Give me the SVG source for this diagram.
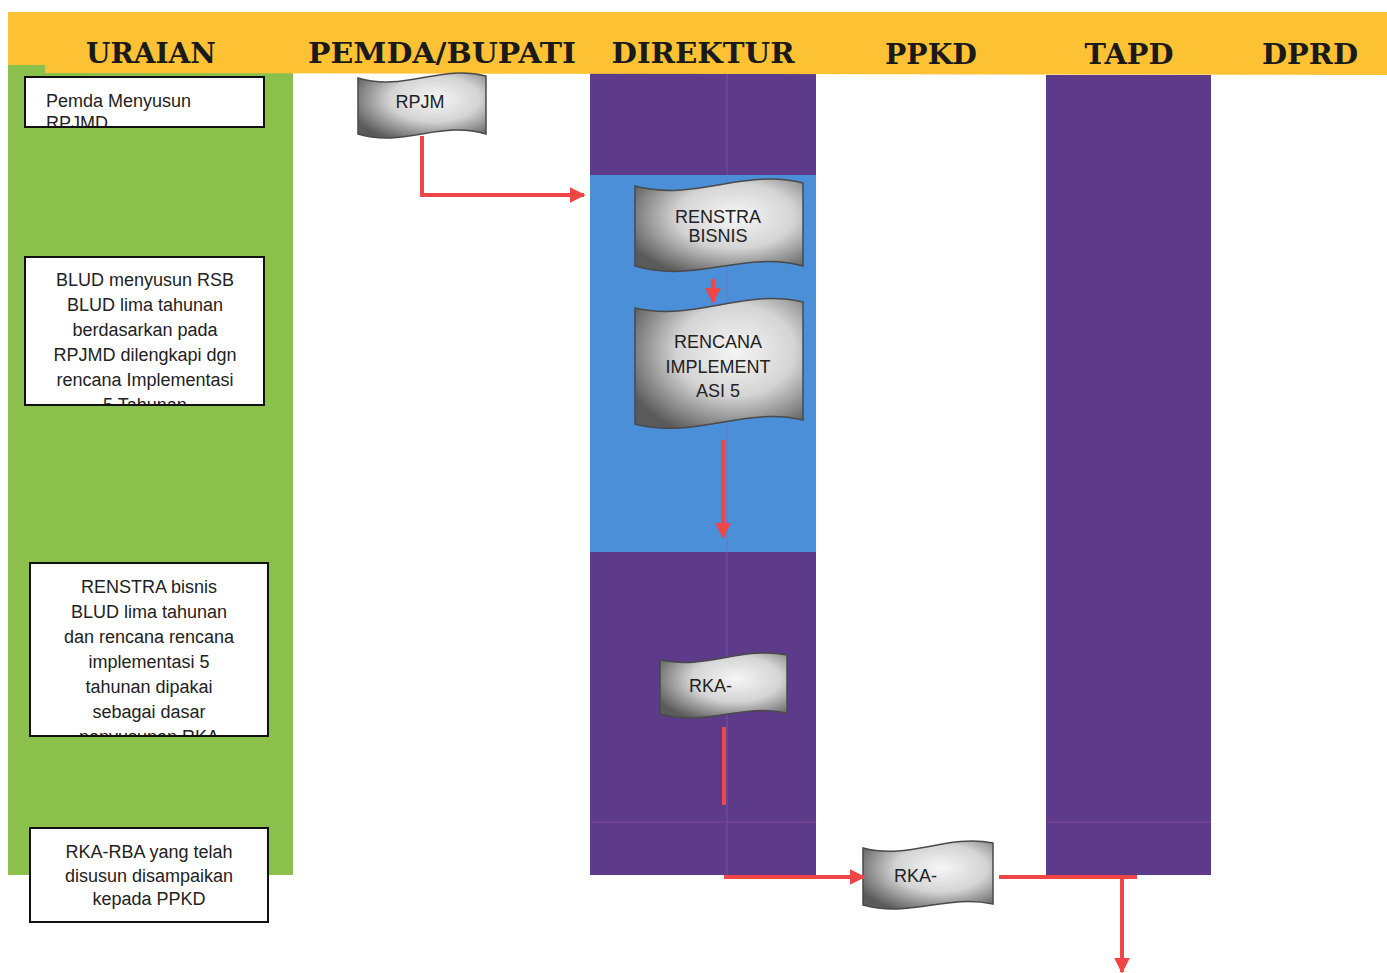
<svg xmlns="http://www.w3.org/2000/svg" width="1387" height="973" viewBox="0 0 1387 973">
<style>
.hdr{font-family:"DejaVu Serif","Liberation Serif",serif;font-weight:bold;font-size:28px;fill:#1a1a1a;text-anchor:middle}
.box{fill:#fff;stroke:#111;stroke-width:2}
.txt{font-family:"Liberation Sans",Arial,sans-serif;font-size:18px;fill:#222}
.c{text-anchor:middle}
.doc{fill:url(#metal);stroke:#4a4a4a;stroke-width:1.5}
.conn{stroke:#f04646;stroke-width:4;fill:none}
</style>
<defs>
<radialGradient id="metal" cx="0.6" cy="0.4" r="0.7">
<stop offset="0" stop-color="#f6f6f6"/>
<stop offset="0.5" stop-color="#d4d4d4"/>
<stop offset="1" stop-color="#5a5a5a"/>
</radialGradient>
<marker id="ah" viewBox="0 0 10 10" refX="9" refY="5" markerWidth="4" markerHeight="4" orient="auto" markerUnits="strokeWidth">
<path d="M0,0 L10,5 L0,10 Z" fill="#f04646"/>
</marker>
<clipPath id="cb1"><rect x="25" y="77" width="239" height="50"/></clipPath>
<clipPath id="cb2"><rect x="25" y="257" width="239" height="148"/></clipPath>
<clipPath id="cb3"><rect x="30" y="563" width="238" height="173"/></clipPath>
</defs>
<rect width="1387" height="973" fill="#fff"/>
<g id="lanes">
<rect x="8" y="65" width="285" height="810" fill="#8cc04c"/>
<rect x="590" y="73" width="226" height="802" fill="#5e3a8a"/>
<rect x="590" y="175" width="226" height="377" fill="#4a8fd8"/>
<rect x="1046" y="75" width="165" height="800" fill="#5e3a8a"/>
<line x1="727" y1="73" x2="727" y2="875" stroke="#7a6aa8" stroke-width="1" opacity="0.5"/>
<line x1="590" y1="822" x2="816" y2="822" stroke="#9a5a9a" stroke-width="1" opacity="0.5"/>
<line x1="1046" y1="822" x2="1211" y2="822" stroke="#9a5a9a" stroke-width="1" opacity="0.5"/>
</g>
<g id="header">
<path d="M8,12 H1387 V75 L45,73 V65 H8 Z" fill="#fcc233"/>
<text class="hdr" x="151" y="63" textLength="130" lengthAdjust="spacingAndGlyphs">URAIAN</text>
<text class="hdr" x="442" y="63" textLength="268" lengthAdjust="spacingAndGlyphs">PEMDA/BUPATI</text>
<text class="hdr" x="703" y="63" textLength="183" lengthAdjust="spacingAndGlyphs">DIREKTUR</text>
<text class="hdr" x="931" y="64" textLength="92" lengthAdjust="spacingAndGlyphs">PPKD</text>
<text class="hdr" x="1129" y="64" textLength="89" lengthAdjust="spacingAndGlyphs">TAPD</text>
<text class="hdr" x="1310" y="64" textLength="96" lengthAdjust="spacingAndGlyphs">DPRD</text>
</g>
<g id="box1">
<rect class="box" x="25" y="77" width="239" height="50"/>
<g clip-path="url(#cb1)">
<text class="txt" x="46" y="107">Pemda Menyusun</text>
<text class="txt" x="46" y="129">RPJMD</text>
</g>
<rect x="25" y="77" width="239" height="50" fill="none" stroke="#111" stroke-width="2"/>
</g>
<g id="box2">
<rect class="box" x="25" y="257" width="239" height="148"/>
<g clip-path="url(#cb2)">
<text class="txt c" x="145" y="286">BLUD menyusun RSB</text>
<text class="txt c" x="145" y="311">BLUD lima tahunan</text>
<text class="txt c" x="145" y="336">berdasarkan pada</text>
<text class="txt c" x="145" y="361">RPJMD dilengkapi dgn</text>
<text class="txt c" x="145" y="386">rencana Implementasi</text>
<text class="txt c" x="145" y="411">5 Tahunan</text>
</g>
<rect x="25" y="257" width="239" height="148" fill="none" stroke="#111" stroke-width="2"/>
</g>
<g id="box3">
<rect class="box" x="30" y="563" width="238" height="173"/>
<g clip-path="url(#cb3)">
<text class="txt c" x="149" y="593">RENSTRA bisnis</text>
<text class="txt c" x="149" y="618">BLUD lima tahunan</text>
<text class="txt c" x="149" y="643">dan rencana rencana</text>
<text class="txt c" x="149" y="668">implementasi 5</text>
<text class="txt c" x="149" y="693">tahunan dipakai</text>
<text class="txt c" x="149" y="718">sebagai dasar</text>
<text class="txt c" x="149" y="743">penyusunan RKA</text>
</g>
<rect x="30" y="563" width="238" height="173" fill="none" stroke="#111" stroke-width="2"/>
</g>
<g id="box4">
<rect class="box" x="30" y="828" width="238" height="94"/>
<text class="txt c" x="149" y="858">RKA-RBA yang telah</text>
<text class="txt c" x="149" y="882">disusun disampaikan</text>
<text class="txt c" x="149" y="905">kepada PPKD</text>
</g>
<g id="doc-rpjm">
<path class="doc" d="M358,78 C404,92 440,64 486,76 L486,134 C440,120 404,148 358,134 Z"/>
<text class="txt c" x="420" y="108">RPJM</text>
</g>
<g id="doc-renstra">
<path class="doc" d="M635,186 C695,202 743,168 803,183 L803,266 C743,250 695,284 635,266 Z"/>
<text class="txt c" x="718" y="223">RENSTRA</text>
<text class="txt c" x="718" y="242">BISNIS</text>
</g>
<g id="doc-rencana">
<path class="doc" d="M635,308 C695,322 743,288 803,302 L803,420 C743,406 695,440 635,424 Z"/>
<text class="txt c" x="718" y="348">RENCANA</text>
<text class="txt c" x="718" y="373">IMPLEMENT</text>
<text class="txt c" x="718" y="397">ASI 5</text>
</g>
<g id="doc-rka1">
<path class="doc" d="M660,660 C706,670 741,646 787,655 L787,713 C741,703 706,727 660,714 Z"/>
<text class="txt" x="689" y="692">RKA-</text>
</g>
<g id="doc-rka2">
<path class="doc" d="M863,848 C910,860 946,834 993,843 L993,904 C946,894 910,918 863,905 Z"/>
<text class="txt" x="894" y="882">RKA-</text>
</g>
<g id="connectors">
<path class="conn" d="M422,136 V195 H584" marker-end="url(#ah)"/>
<path class="conn" d="M713,279 V302" marker-end="url(#ah)"/>
<path class="conn" d="M723,440 V537" marker-end="url(#ah)"/>
<path class="conn" d="M724,727 V805"/>
<path class="conn" d="M724,877 H864" marker-end="url(#ah)"/>
<path class="conn" d="M999,877 H1137"/>
<path class="conn" d="M1122,877 V972" marker-end="url(#ah)"/>
</g>
</svg>
